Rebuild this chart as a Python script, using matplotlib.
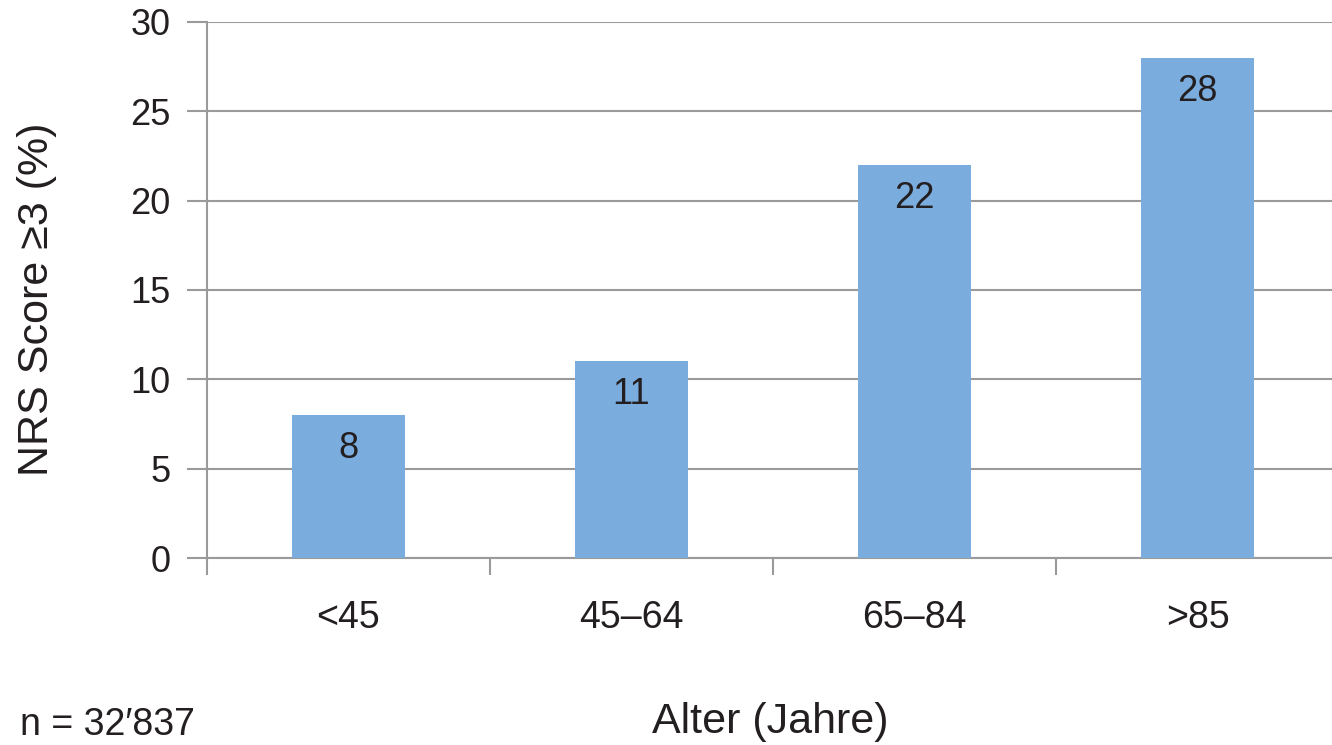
import matplotlib
matplotlib.use("Agg")
import matplotlib.pyplot as plt
import numpy as np

# Data
categories = ["<45", "45\u201364", "65\u201384", ">85"]
values = [8, 11, 22, 28]
y_ticks = [0, 5, 10, 15, 20, 25, 30]

bar_color = "#7BACDE"
grid_color = "#9a9a9a"
text_color = "#231f20"

plt.rcParams["font.family"] = ["Liberation Sans", "DejaVu Sans"]

W, H = 1332, 745
fig = plt.figure(figsize=(W / 100, H / 100), dpi=100)
ax = fig.add_axes([207 / W, (H - 558) / H, (W - 207) / W, 536 / H])

x = np.arange(len(categories))
ax.bar(x, values, width=0.40, color=bar_color, zorder=3)

for xi, v in zip(x, values):
    ax.annotate(str(v), (xi, v), xytext=(0, -24), textcoords="offset points",
                ha="center", va="center", fontsize=26, color=text_color, zorder=4)

ax.set_yticks(y_ticks)
ax.set_yticklabels([str(t) for t in y_ticks])
ax.yaxis.grid(True, color=grid_color, linewidth=1.5, zorder=0)

ax.set_xticks(x)
ax.set_xticklabels(categories)
ax.set_xticks(np.arange(-0.5, len(categories), 1.0), minor=True)

# limits after ticks so the tick setters do not widen the view
ax.set_ylim(0, 30)
ax.set_xlim(-0.5, -0.5 + (W - 207) / 283)

ax.tick_params(axis="y", length=14.5, width=1.5, color=grid_color, pad=12,
               labelsize=26, labelcolor=text_color)
ax.tick_params(axis="x", which="major", length=0, pad=30,
               labelsize=27, labelcolor=text_color)
ax.tick_params(axis="x", which="minor", length=12.5, width=1.5, color=grid_color)

for side in ["top", "right"]:
    ax.spines[side].set_visible(False)
for side in ["left", "bottom"]:
    ax.spines[side].set_color(grid_color)
    ax.spines[side].set_linewidth(1.5)

ax.set_ylabel("NRS Score \u22653 (%)", fontsize=31, color=text_color)
ax.yaxis.set_label_coords(-(207 - 57) / (W - 207), 0.483)

fig.text(20 / W, 1 - 725 / H, "n = 32\u2032837", fontsize=27, color=text_color,
         ha="left", va="center")
fig.text(770 / W, 1 - 722 / H, "Alter (Jahre)", fontsize=31, color=text_color,
         ha="center", va="center")

fig.savefig("out.png", dpi=100)
